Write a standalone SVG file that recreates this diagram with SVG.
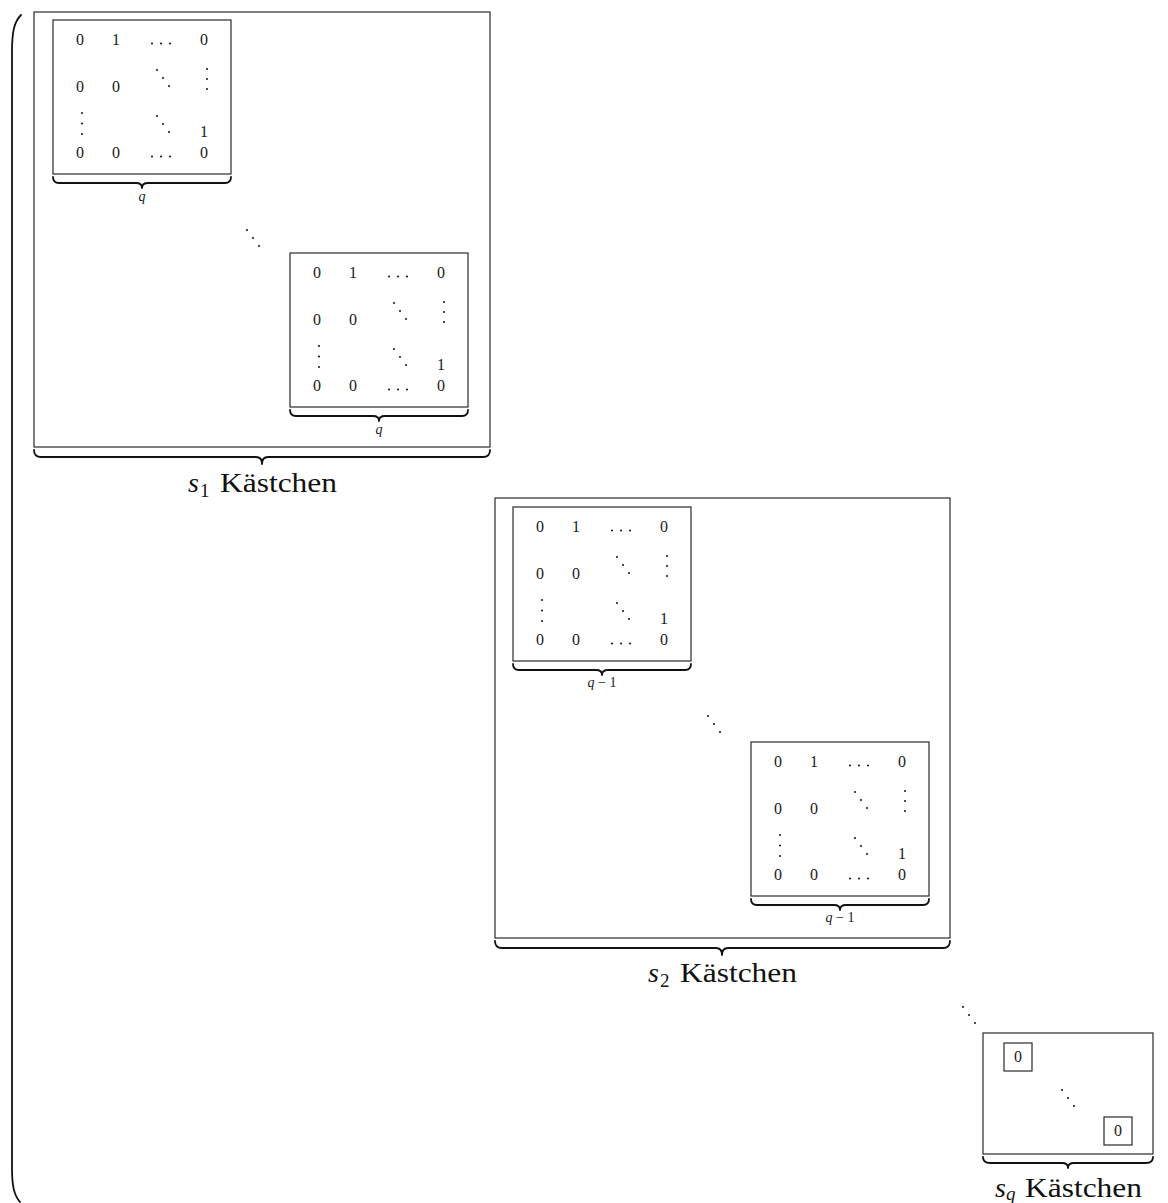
<svg xmlns="http://www.w3.org/2000/svg" xmlns:xlink="http://www.w3.org/1999/xlink" width="1168" height="1203" viewBox="0 0 1168 1203">
<style>
.box{fill:none;stroke:#2a2a2a;stroke-width:1.2}
.brace{fill:none;stroke:#111;stroke-width:1.8;stroke-linecap:round;stroke-linejoin:round}
.paren{fill:none;stroke:#111;stroke-width:1.8;stroke-linecap:round}
.num{font-family:"Liberation Serif",serif;font-size:16px;fill:#1a1a1a;text-anchor:middle}
.sm{font-family:"Liberation Serif",serif;font-size:14px;font-style:italic;fill:#1a1a1a;text-anchor:middle}
.lbl{font-family:"Liberation Serif",serif;font-size:28px;fill:#111}
.it{font-style:italic}
.sub{font-family:"Liberation Serif",serif;font-size:19px;fill:#111}
.dot{fill:#222}
</style>
<defs>
<g id="dd">
<circle class="dot" cx="0" cy="0" r="1.1"/><circle class="dot" cx="6" cy="8" r="1.1"/><circle class="dot" cx="12" cy="16" r="1.1"/>
</g>
<g id="mat">
<rect class="box" x="0" y="0" width="178" height="154"/>
<text class="num" x="27" y="25">0</text>
<text class="num" x="63" y="25">1</text>
<circle class="dot" cx="99" cy="23.5" r="1.1"/><circle class="dot" cx="108" cy="23.5" r="1.1"/><circle class="dot" cx="117" cy="23.5" r="1.1"/>
<text class="num" x="151" y="25">0</text>
<text class="num" x="27" y="72">0</text>
<text class="num" x="63" y="72">0</text>
<use xlink:href="#dd" x="104" y="50"/>
<circle class="dot" cx="154" cy="49" r="1.1"/><circle class="dot" cx="154" cy="59" r="1.1"/><circle class="dot" cx="154" cy="69" r="1.1"/>
<circle class="dot" cx="29" cy="93" r="1.1"/><circle class="dot" cx="29" cy="103.5" r="1.1"/><circle class="dot" cx="29" cy="114" r="1.1"/>
<use xlink:href="#dd" x="104" y="96"/>
<text class="num" x="151" y="117">1</text>
<text class="num" x="27" y="138">0</text>
<text class="num" x="63" y="138">0</text>
<circle class="dot" cx="99" cy="136.5" r="1.1"/><circle class="dot" cx="108" cy="136.5" r="1.1"/><circle class="dot" cx="117" cy="136.5" r="1.1"/>
<text class="num" x="151" y="138">0</text>
<path class="brace" d="M0,157 C0,161 2,163 6,163 L83,163 C87,163 89,165 89,168 C89,165 91,163 95,163 L172,163 C176,163 178,161 178,157"/>
</g>
</defs>

<g id="paren">
<path class="paren" d="M21,15 C14,22 12,32 12,52 L12,1168 C12,1186 14,1195 20,1202"/>
</g>

<g id="block1">
<rect class="box" x="34" y="12" width="456" height="435"/>
<g id="block1-m1"><use xlink:href="#mat" x="53" y="20"/><text class="sm" x="142" y="201">q</text></g>
<use xlink:href="#dd" x="247" y="230"/>
<g id="block1-m2"><use xlink:href="#mat" x="290" y="253"/><text class="sm" x="379" y="434">q</text></g>
<path class="brace" d="M34,450 C34,455 36,457 41,457 L256,457 C260,457 262,460 262,464 C262,460 264,457 268,457 L483,457 C488,457 490,455 490,450"/>
<text class="lbl it" x="188" y="492">s</text><text class="sub" x="200" y="497">1</text>
<text class="lbl" x="220" y="492" textLength="117" lengthAdjust="spacingAndGlyphs">Kästchen</text>
</g>

<g id="block2">
<rect class="box" x="495" y="498" width="455" height="440"/>
<g id="block2-m1"><use xlink:href="#mat" x="513" y="507"/><text class="sm" x="602" y="687" textLength="29">q<tspan font-style="normal">−1</tspan></text></g>
<use xlink:href="#dd" x="708" y="716"/>
<g id="block2-m2"><use xlink:href="#mat" x="751" y="742"/><text class="sm" x="840" y="922" textLength="29">q<tspan font-style="normal">−1</tspan></text></g>
<path class="brace" d="M495,941 C495,946 497,948 502,948 L716,948 C720,948 722,951 722,955 C722,951 724,948 728,948 L943,948 C948,948 950,946 950,941"/>
<text class="lbl it" x="648" y="982">s</text><text class="sub" x="660" y="987">2</text>
<text class="lbl" x="680" y="982" textLength="117" lengthAdjust="spacingAndGlyphs">Kästchen</text>
</g>

<use xlink:href="#dd" x="963" y="1007"/>

<g id="block3">
<rect class="box" x="983" y="1033" width="170" height="121"/>
<rect class="box" x="1004" y="1043" width="28" height="28"/>
<text class="num" x="1018" y="1062">0</text>
<use xlink:href="#dd" x="1062" y="1090"/>
<rect class="box" x="1104" y="1117" width="28" height="28"/>
<text class="num" x="1118" y="1136">0</text>
<path class="brace" d="M983,1157 C983,1161 985,1163 990,1163 L1062,1163 C1066,1163 1068,1165 1068,1168 C1068,1165 1070,1163 1074,1163 L1146,1163 C1151,1163 1153,1161 1153,1157"/>
<text class="lbl it" x="995" y="1197">s</text><text class="sub it" x="1006" y="1200">q</text>
<text class="lbl" x="1025" y="1197" textLength="117" lengthAdjust="spacingAndGlyphs">Kästchen</text>
</g>
</svg>
